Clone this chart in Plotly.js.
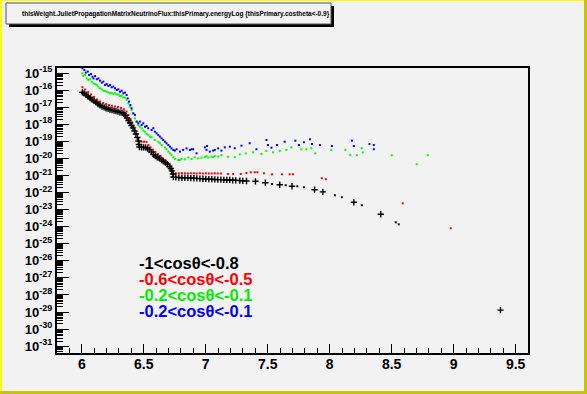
<!DOCTYPE html>
<html><head><meta charset="utf-8">
<script src="https://cdn.plot.ly/plotly-3.0.1.min.js"></script>
<style>html,body{margin:0;padding:0;background:#f2f2f2;overflow:hidden;} #chart{width:587px;height:394px;}</style>
</head><body><div id="chart"></div>
<script>
// x = thisPrimary.energyLog ; y values stored as log10 exponents of thisWeight
const blackCrossX = [6.005,6.019,6.035,6.051,6.067,6.083,6.099,6.115,6.131,6.147,6.163,6.180,6.196,6.212,6.228,6.244,6.260,6.276,6.292,6.308,6.324,6.340,6.353,6.365,6.377,6.389,6.401,6.413,6.425,6.437,6.449,6.457,6.461,6.465,6.482,6.498,6.514,6.530,6.546,6.562,6.578,6.594,6.610,6.626,6.643,6.659,6.675,6.691,6.707,6.719,6.727,6.735,6.739,6.759,6.783,6.808,6.832,6.856,6.880,6.904,6.928,6.953,6.977,7.001,7.025,7.049,7.073,7.097,7.122,7.146,7.170,7.194,7.218,7.242,7.275,7.299,7.329,7.401,7.481,7.597,7.696,7.878,7.945,8.195,8.412,9.378];
const blackCrossExp = [-16.12,-16.19,-16.28,-16.37,-16.46,-16.55,-16.63,-16.72,-16.81,-16.89,-16.96,-17.01,-17.06,-17.10,-17.14,-17.17,-17.20,-17.23,-17.26,-17.30,-17.32,-17.38,-17.48,-17.63,-17.78,-17.92,-18.07,-18.21,-18.39,-18.57,-18.77,-18.98,-19.18,-19.33,-19.35,-19.35,-19.35,-19.42,-19.50,-19.62,-19.77,-19.86,-19.93,-20.00,-20.09,-20.17,-20.25,-20.34,-20.47,-20.59,-20.73,-20.91,-21.09,-21.11,-21.12,-21.13,-21.14,-21.14,-21.15,-21.16,-21.17,-21.18,-21.19,-21.20,-21.21,-21.21,-21.23,-21.24,-21.24,-21.25,-21.26,-21.26,-21.28,-21.28,-21.30,-21.31,-21.32,-21.34,-21.42,-21.54,-21.63,-21.83,-21.96,-22.57,-23.27,-28.89];
const blackDotX = [7.535,7.645,7.739,7.792,8.042,8.098,8.259,8.533,8.557];
const blackDotExp = [-21.50,-21.57,-21.63,-21.69,-22.16,-22.27,-22.74,-23.74,-23.86];

const redX = [6.005,6.027,6.051,6.075,6.099,6.123,6.147,6.172,6.196,6.220,6.244,6.268,6.292,6.316,6.340,6.361,6.377,6.393,6.405,6.417,6.429,6.441,6.453,6.464,6.482,6.502,6.522,6.538,6.554,6.574,6.594,6.614,6.635,6.655,6.675,6.695,6.711,6.725,6.735,
  6.759,6.783,6.808,6.832,6.856,6.880,6.904,6.928,6.953,6.977,7.001,7.025,7.049,7.073,7.097,7.122,
  7.180,7.221,7.283,7.328,7.363,7.395,7.417,7.470,7.535,7.615,7.677,7.704,7.937,7.969,8.589,8.976];
const redExp = [-15.83,-15.96,-16.11,-16.25,-16.40,-16.55,-16.66,-16.75,-16.82,-16.87,-16.91,-16.96,-16.98,-17.04,-17.12,-17.25,-17.45,-17.69,-17.89,-18.10,-18.33,-18.57,-18.80,-19.02,-19.02,-19.02,-19.03,-19.21,-19.35,-19.49,-19.62,-19.74,-19.86,-20.00,-20.12,-20.27,-20.44,-20.68,-20.82,
  -20.87,-20.87,-20.86,-20.87,-20.88,-20.87,-20.87,-20.88,-20.87,-20.88,-20.87,-20.88,-20.88,-20.87,-20.88,-20.88,
  -20.91,-20.91,-20.91,-20.85,-20.81,-20.81,-20.81,-20.87,-20.93,-20.93,-20.93,-20.93,-21.16,-21.22,-22.63,-24.09];

const greenX = [6.005,6.013,6.027,6.040,6.053,6.067,6.080,6.094,6.107,6.121,6.134,6.147,6.161,6.174,6.188,6.201,6.214,6.228,6.241,6.255,6.268,6.282,6.295,6.308,6.322,6.335,6.349,6.362,6.375,6.389,6.402,6.416,6.429,6.443,6.456,6.469,6.483,6.496,6.510,6.523,6.536,6.550,6.563,6.590,6.617,6.630,6.644,6.671,6.684,6.698,6.711,6.724,6.738,6.751,6.778,6.805,6.832,6.859,6.886,6.912,6.939,6.966,6.993,7.020,7.046,7.073,7.100,7.127,
  6.791,7.006,7.060,
  7.180,7.234,7.275,7.323,7.382,7.449,7.490,7.543,7.597,7.651,7.691,7.771,7.812,7.852,7.884,8.013,8.126,8.166,8.219,8.259,8.267,8.501,8.702,8.791];
const greenExp = [-15.01,-15.17,-15.11,-15.31,-15.40,-15.36,-15.50,-15.60,-15.64,-15.70,-15.79,-15.89,-15.95,-16.03,-16.05,-16.09,-16.13,-16.18,-16.15,-16.22,-16.18,-16.26,-16.24,-16.34,-16.32,-16.42,-16.44,-16.57,-16.77,-16.97,-17.16,-17.36,-17.65,-17.84,-18.04,-18.14,-18.23,-18.37,-18.43,-18.57,-18.62,-18.72,-18.76,-18.92,-19.02,-19.11,-19.21,-19.35,-19.46,-19.60,-19.70,-19.80,-19.93,-20.03,-20.09,-20.03,-20.05,-19.95,-20.03,-19.93,-19.99,-19.95,-19.93,-19.95,-19.89,-19.86,-19.89,-19.80,
  -20.09,-19.86,-19.93,
  -19.90,-19.93,-19.76,-19.70,-19.64,-19.74,-19.56,-19.64,-19.56,-19.50,-19.35,-19.46,-19.46,-19.40,-19.70,-19.50,-19.50,-19.81,-19.81,-19.40,-19.64,-19.81,-20.34,-19.81];

const blueX = [6.005,6.021,6.032,6.048,6.059,6.075,6.086,6.094,6.107,6.121,6.134,6.147,6.161,6.174,6.188,6.201,6.214,6.228,6.241,6.255,6.268,6.282,6.295,6.308,6.322,6.335,6.349,6.362,6.370,6.381,6.392,6.402,6.416,6.429,6.443,6.456,6.469,6.483,6.496,6.510,6.523,6.536,6.563,6.577,6.590,6.604,6.617,6.630,6.644,6.657,6.671,6.684,6.698,6.711,6.724,6.738,6.751,6.765,6.792,6.818,6.845,6.872,6.899,6.993,7.006,7.033,7.073,7.100,7.127,
  6.886,6.926,7.011,7.060,7.154,7.194,7.234,7.288,7.355,7.409,7.490,7.502,7.530,7.575,7.637,7.723,7.752,7.792,7.841,7.857,7.921,8.018,8.179,8.195,8.321,8.356,8.356];
const blueExp = [-14.72,-14.82,-14.97,-14.91,-15.11,-15.05,-15.21,-15.31,-15.17,-15.36,-15.31,-15.44,-15.56,-15.50,-15.70,-15.64,-15.75,-15.70,-15.83,-15.79,-15.89,-15.99,-15.95,-16.09,-16.03,-16.18,-16.14,-16.28,-16.48,-16.67,-16.87,-17.06,-17.36,-17.45,-17.84,-17.94,-17.84,-18.04,-17.94,-18.14,-18.10,-18.23,-18.33,-18.23,-18.43,-18.53,-18.62,-18.72,-18.82,-18.92,-19.02,-19.11,-19.21,-19.31,-19.41,-19.50,-19.54,-19.46,-19.60,-19.50,-19.41,-19.50,-19.46,-19.35,-19.50,-19.60,-19.50,-19.41,-19.54,
  -19.46,-19.70,-19.27,-19.54,-19.35,-19.31,-19.40,-19.25,-19.11,-19.46,-18.92,-19.21,-19.37,-19.21,-19.02,-18.96,-19.21,-19.05,-18.88,-19.15,-19.21,-19.27,-18.96,-19.27,-19.15,-19.21,-19.46];

const xTickVals = [6, 6.5, 7, 7.5, 8, 8.5, 9, 9.5];
const xTickText = ['6', '6.5', '7', '7.5', '8', '8.5', '9', '9.5'];
const yTickExps = [-15,-16,-17,-18,-19,-20,-21,-22,-23,-24,-25,-26,-27,-28,-29,-30,-31];
const legendLabels = ['-1&lt;cosθ&lt;-0.8', '-0.6&lt;cosθ&lt;-0.5', '-0.2&lt;cosθ&lt;-0.1', '-0.2&lt;cosθ&lt;-0.1'];
const legendColors = ['#000000', '#ff0000', '#00ee00', '#0000ff'];
const titleText = 'thisWeight.JulietPropagationMatrixNeutrinoFlux:thisPrimary.energyLog {thisPrimary.costheta&lt;-0.9}';

const p10 = a => a.map(e => Math.pow(10, e));
const FONT = 'Liberation Sans, Arial, Helvetica, sans-serif';

const dotMarker = c => ({symbol: 'square', size: 2, color: c, line: {width: 0}});
const traces = [
  {x: greenX, y: p10(greenExp), mode: 'markers', type: 'scatter', marker: dotMarker('#00ff00'), hoverinfo: 'none'},
  {x: blueX, y: p10(blueExp), mode: 'markers', type: 'scatter', marker: dotMarker('#0000ff'), hoverinfo: 'none'},
  {x: redX, y: p10(redExp), mode: 'markers', type: 'scatter', marker: dotMarker('#ff0000'), hoverinfo: 'none'},
  {x: blackCrossX, y: p10(blackCrossExp), mode: 'markers', type: 'scatter',
   marker: {symbol: 'cross-thin', size: 4.5, line: {width: 1.4, color: '#000'}, color: '#000'}, hoverinfo: 'none'},
  {x: blackDotX, y: p10(blackDotExp), mode: 'markers', type: 'scatter', marker: dotMarker('#000000'), hoverinfo: 'none'}
];

// minor ticks on log axis: 2..9 x 10^k
const yMinor = [];
for (let k = -32; k <= -14; k++) for (let m = 2; m <= 9; m++) yMinor.push(m * Math.pow(10, k));

// pixel -> paper helpers (plot area: x 57..528, y 68..353)
const PX = px => (px - 57) / 471;
const PY = py => (353 - py) / 285;

const annotations = legendLabels.map((t, i) => ({
  xref: 'paper', yref: 'paper', x: PX(138), y: PY(262.5 + i * 16), xanchor: 'left', yanchor: 'middle',
  borderpad: 0,
  text: t, showarrow: false, font: {family: FONT, size: 16.5, weight: 'bold', color: legendColors[i]}
}));
annotations.push({
  xref: 'paper', yref: 'paper', x: PX(20), y: PY(14), xanchor: 'left', yanchor: 'middle',
  text: titleText, showarrow: false, font: {family: FONT, size: 6.5, weight: 'bold', color: '#000'}
});

const shapes = [
  // title box shadow and box
  {type: 'rect', xref: 'paper', yref: 'paper', x0: PX(9), x1: PX(334), y0: PY(27), y1: PY(6), fillcolor: '#000', line: {width: 0}},
  {type: 'rect', xref: 'paper', yref: 'paper', x0: PX(6), x1: PX(331), y0: PY(24), y1: PY(3), fillcolor: '#f2f2f2', line: {width: 1, color: '#555'}},
  // canvas border (yellow bevel)
  {type: 'rect', xref: 'paper', yref: 'paper', x0: PX(0), x1: PX(2), y0: PY(394), y1: PY(0), fillcolor: '#ffff00', line: {width: 0}},
  {type: 'rect', xref: 'paper', yref: 'paper', x0: PX(0), x1: PX(587), y0: PY(1), y1: PY(0), fillcolor: '#ffff00', line: {width: 0}},
  {type: 'rect', xref: 'paper', yref: 'paper', x0: PX(584), x1: PX(587), y0: PY(394), y1: PY(0), fillcolor: '#c8c400', line: {width: 0}},
  {type: 'rect', xref: 'paper', yref: 'paper', x0: PX(0), x1: PX(587), y0: PY(394), y1: PY(391), fillcolor: '#c8c400', line: {width: 0}}
];

const layout = {
  width: 587, height: 394,
  margin: {l: 57, r: 59, t: 68, b: 41, pad: 0},
  paper_bgcolor: '#f2f2f2', plot_bgcolor: '#f2f2f2',
  showlegend: false,
  font: {family: FONT, color: '#000'},
  xaxis: {
    range: [5.8, 9.6], showgrid: false, zeroline: false,
    showline: true, linecolor: '#000', linewidth: 2, mirror: true,
    ticks: 'inside', ticklen: 9, tickwidth: 1, tickcolor: '#000',
    tickmode: 'array', tickvals: xTickVals, ticktext: xTickText,
    ticklabelstandoff: -3,
    tickfont: {family: FONT, size: 14, weight: 'bold', color: '#000'},
    minor: {ticks: 'inside', dtick: 0.1, tick0: 0, ticklen: 5, tickwidth: 1, tickcolor: '#000'}
  },
  yaxis: {
    type: 'log', range: [-31.4, -14.7], showgrid: false, zeroline: false,
    showline: true, linecolor: '#000', linewidth: 2, mirror: true,
    ticks: 'inside', ticklen: 12, tickwidth: 1, tickcolor: '#000',
    tickmode: 'array', tickvals: p10(yTickExps), ticktext: yTickExps.map(e => '10<sup>' + e + '</sup>'),
    tickfont: {family: FONT, size: 13, weight: 'bold', color: '#000'},
    minor: {ticks: 'inside', tickmode: 'array', tickvals: yMinor, ticklen: 6, tickwidth: 1, tickcolor: '#000'}
  },
  annotations: annotations,
  shapes: shapes
};

Plotly.newPlot('chart', traces, layout, {staticPlot: true, displayModeBar: false});
</script>
</body></html>
